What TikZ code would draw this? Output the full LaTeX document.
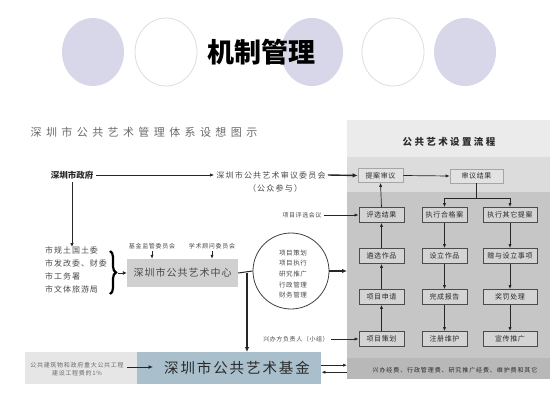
\documentclass[tikz,border=0pt]{standalone}
\usepackage{fontspec}
\setmainfont{Noto Sans CJK SC}
\usetikzlibrary{arrows.meta,decorations.pathreplacing,calc}
\definecolor{lav}{HTML}{D8D7EA}
\definecolor{lavedge}{HTML}{DCDCE6}
\definecolor{hdrc}{HTML}{EBEBEB}
\definecolor{bandb}{HTML}{DCDCDC}
\definecolor{bandc}{HTML}{C6C6C6}
\definecolor{bandd}{HTML}{B8B8B8}
\definecolor{boxf}{HTML}{D4D4D4}
\definecolor{lboxf}{HTML}{E2E2E2}
\definecolor{ctrf}{HTML}{D0D0D0}
\definecolor{fundf}{HTML}{A9BFCC}
\definecolor{srcf}{HTML}{E6E6E6}
\definecolor{txd}{HTML}{2A2A2A}
\definecolor{txm}{HTML}{4A4A4A}
\definecolor{txl}{HTML}{6A6A6A}
\newcommand{\fsl}[3]{\fontsize{#1}{#2}\selectfont\addfontfeatures{LetterSpace=#3}}
\begin{document}
\begin{tikzpicture}[x=1pt,y=-1pt,
  arr/.style={-{Latex[length=4pt,width=3.2pt]}, line width=0.7pt, draw=black!85},
  tarr/.style={-{Latex[length=5pt,width=4.5pt]}, line width=1.4pt, draw=black!85},
  ln/.style={line width=0.7pt, draw=black!85},
  txt/.style={inner sep=2pt, text=txm},
  pbox/.style={draw=black!70, line width=0.8pt, fill=boxf, minimum height=15, inner sep=0pt, text=txd, font=\fsl{7}{8}{9}},
  lbox/.style={draw=black!35, line width=0.6pt, fill=lboxf, minimum height=14, inner sep=0pt, text=txd, font=\fsl{7}{8}{9}},
  band/.style={draw=none, inner sep=0pt, minimum width=203, anchor=north west},
  lavc/.style={fill=lav, draw=none},
  whc/.style={fill=white, draw=lavedge, line width=0.8pt}
]
\useasboundingbox (0,0) rectangle (553,415);
\fill[white] (0,0) rectangle (553,415);
% title circles
\path[lavc] (93,52) ellipse [x radius=31, y radius=34];
\path[whc] (166,52) ellipse [x radius=31, y radius=34];
\path[lavc] (312,52) ellipse [x radius=31, y radius=34];
\path[whc] (393,52) ellipse [x radius=31, y radius=34];
\path[lavc] (465,52) ellipse [x radius=31, y radius=34];
\node[font=\fontsize{27}{30}\selectfont\bfseries, text=black, inner sep=0pt] (title) at (261,52) {机制管理};
% subtitle
\node[font=\fsl{11}{13}{40}, text=txl, inner sep=0pt] (sub) at (144,132) {深圳市公共艺术管理体系设想图示};
% right panel bands
\node[band, fill=hdrc, minimum height=37] (hdr) at (347,120) {};
\node[band, fill=bandb, minimum height=35] (b2) at (347,157) {};
\node[band, fill=bandc, minimum height=166] (b3) at (347,192) {};
\node[band, fill=bandd, minimum height=21] (b4) at (347,358) {};
\node[font=\fsl{9.5}{11}{25}\bfseries, text=txd, inner sep=0pt] (hdrt) at (449,142) {公共艺术设置流程};
\node[font=\fsl{6}{8}{15}, text=txd, inner sep=0pt] (b4t) at (455,370) {兴办经费、行政管理费、研究推广经费、维护费和其它};
% panel boxes
\node[lbox, minimum width=45] (p1) at (380.5,175.5) {提案审议};
\node[lbox, minimum width=53] (p2) at (476.5,176) {审议结果};
\node[pbox, minimum width=45] (a1) at (381.5,215) {评选结果};
\node[pbox, minimum width=45] (a2) at (381.5,256) {遴选作品};
\node[pbox, minimum width=45] (a3) at (381.5,297) {项目申请};
\node[pbox, minimum width=45] (a4) at (381.5,339) {项目策划};
\node[pbox, minimum width=45] (c1) at (444.5,215) {执行合格案};
\node[pbox, minimum width=45] (c2) at (444.5,256) {设立作品};
\node[pbox, minimum width=45] (c3) at (444.5,297) {完成报告};
\node[pbox, minimum width=45] (c4) at (444.5,339) {注册维护};
\node[pbox, minimum width=54] (d1) at (510,215) {执行其它提案};
\node[pbox, minimum width=54] (d2) at (510,256) {赠与设立事项};
\node[pbox, minimum width=54] (d3) at (510,297) {奖罚处理};
\node[pbox, minimum width=54] (d4) at (510,339) {宣传推广};
\draw[arr] (a4.north) -- (a3.south);
\draw[arr] (a3.north) -- (a2.south);
\draw[arr] (a2.north) -- (a1.south);
\draw[arr] (a1.north) -- (p1.south);
\draw[arr] (p1.east) -- (p2.west);
\coordinate (sp) at (476.5,198);
\draw[ln] (p2.south) -- (sp);
\draw[arr] (sp) -| (c1.north);
\draw[arr] (sp) -| (d1.north);
\draw[arr] (c1.south) -- (c2.north);
\draw[arr] (c2.south) -- (c3.north);
\draw[arr] (c3.south) -- (c4.north);
\draw[arr] (d1.south) -- (d2.north);
\draw[arr] (d2.south) -- (d3.north);
\draw[arr] (d3.south) -- (d4.north);
% left side
\node[font=\fontsize{8.5}{10}\selectfont\bfseries, text=txd, inner sep=3pt] (gov) at (72,175) {深圳市政府};
\node[font=\fsl{8}{10}{15}, txt] (rc) at (271,175) {深圳市公共艺术审议委员会};
\node[font=\fsl{8}{10}{15}, txt] (rcs) at (275,188) {（公众参与）};
\draw[arr] (gov.east) -- (rc.west);
\draw[tarr] (rc.east) -- (p1.west);
\node[font=\fsl{6}{8}{10}, txt] (pj) at (302,215) {项目评选会议};
\draw[arr] (pj.east) -- (a1.west);
\node[font=\fsl{8}{12.7}{12}, text=txm, inner sep=0pt, anchor=north west, align=left] (lst) at (45,247) {市规土国土委\\市发改委、财委\\市工务署\\市文体旅游局};
\draw[line width=0.9pt, -{Latex[length=4pt,width=3.5pt]}, draw=black!85] (gov.south) -- (gov.south |- lst.north);
\draw[line width=2.2pt, decorate, decoration={brace, amplitude=6pt}] (110,251) -- (110,294);
\coordinate (bt) at (118,273);
\node[fill=ctrf, minimum width=111, minimum height=28, inner sep=0pt, font=\fsl{10}{12}{10}, text=txm] (cc) at (182.5,273) {深圳市公共艺术中心};
\draw[line width=1pt, -{Latex[length=4pt,width=4pt]}, draw=black!85] (bt) -- (cc.west);
\node[font=\fsl{6}{8}{12}, txt] (k1) at (152,246) {基金监管委员会};
\node[font=\fsl{6}{8}{12}, txt] (k2) at (212,246) {学术顾问委员会};
\draw[arr] (k1.south) -- (k1.south |- cc.north);
\draw[arr] (k2.south) -- (k2.south |- cc.north);
\node[circle, draw=black!75, line width=0.8pt, minimum size=76, inner sep=0pt] (circ) at (291,271) {};
\node[font=\fsl{6.5}{10.7}{8}, text=txm, align=center, inner sep=0pt] (circt) at (293,274) {项目策划\\项目执行\\研究推广\\行政管理\\财务管理};
\draw[line width=1pt, draw=black!85] (cc.east) -- (circ.west);
\draw[tarr] (circ.east) -- (circ.east -| b3.west);
\node[font=\fsl{6}{8}{10}, txt] (hb) at (296,339) {兴办方负责人（小组）};
\draw[arr] (hb.east) -- (a4.west);
% bottom
\node[fill=srcf, minimum width=112, minimum height=32, inner sep=0pt, anchor=north west] (src) at (25,352) {};
\node[font=\fsl{6}{7.5}{12}, text=txl, align=center, inner sep=1pt] (srct) at (77,369) {公共建筑物和政府重大公共工程\\建设工程费的1\%};
\node[fill=fundf, minimum width=184, minimum height=32, inner sep=0pt, anchor=north west] (fund) at (137,352) {};
\node[font=\fsl{14.5}{16}{13}, text=txd, inner sep=0pt] (fundt) at (237,368) {深圳市公共艺术基金};
\coordinate (fa) at (153,367);
\draw[line width=1pt, -{Latex[length=4.5pt,width=4pt]}, draw=black!85] (127,367) -- (fa);
\coordinate (j) at (247,273);
\draw[tarr] (j) -- (j |- fund.north);
\draw[arr] ([yshift=3pt]fund.east) -- ([yshift=3pt]fund.east -| b4.west);
\draw[arr] ([yshift=-4pt]fund.east -| b4.west) -- ([yshift=-4pt]fund.east);
\end{tikzpicture}
\end{document}
